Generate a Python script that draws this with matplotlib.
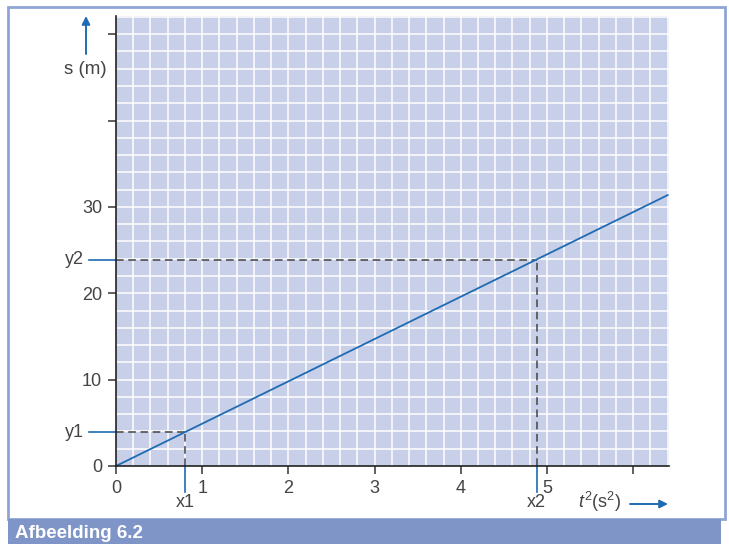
import matplotlib
matplotlib.use("Agg")
import matplotlib.pyplot as plt
import matplotlib.transforms as mtransforms
from matplotlib.patches import Rectangle
import numpy as np

# ---- data ----
x_line = [0.0, 6.4]          # t^2 (s^2)
y_line = [0.0, 31.36]        # s (m), s = 4.9 t^2
x_marks = [0.8, 4.88]
y_marks = [3.92, 23.9]
mark_xlabels = ["x1", "x2"]
mark_ylabels = ["y1", "y2"]
xticks = [0, 1, 2, 3, 4, 5, 6]
xticklabels = ["0", "1", "2", "3", "4", "5", ""]
yticks = [0, 10, 20, 30, 40, 50]
yticklabels = ["0", "10", "20", "30", "", ""]
caption = "Afbeelding 6.2"

plt.rcParams["font.family"] = ["Liberation Sans", "DejaVu Sans"]
plt.rcParams["mathtext.fontset"] = "custom"
plt.rcParams["mathtext.rm"] = "Liberation Sans"
plt.rcParams["mathtext.it"] = "Liberation Sans:italic"

BLUE = "#1f6bb3"
GRAY = "#444444"
BG = "#c8cfe8"
FS = 13

W, H = 729, 544
fig = plt.figure(figsize=(W / 100, H / 100), dpi=100)

def fx(px):
    return px / W

def fy(py):
    return 1 - py / H

# border & banner
fig.patches.append(Rectangle((fx(8), fy(519)), fx(725) - fx(8), fy(7) - fy(519),
                             transform=fig.transFigure, fill=False,
                             edgecolor="#8fa5d6", linewidth=2))
fig.patches.append(Rectangle((fx(8), 0), fx(721) - fx(8), fy(519),
                             transform=fig.transFigure, facecolor="#7f95c8",
                             edgecolor="none"))
fig.text(fx(15), fy(533), caption, color="white", fontsize=13.5, fontweight="bold",
         va="center", ha="left")

ax = fig.add_axes([fx(116), fy(466), fx(668.5) - fx(116), fy(16) - fy(466)])
ax.set_facecolor(BG)
ax.set_xlim(0, 6.41)
ax.set_ylim(0, 52.1)

# grid
for gx in np.arange(0.2, 6.41, 0.2):
    ax.axvline(gx, color="white", lw=1.1, zorder=1)
for gy in np.arange(2, 52.1, 2):
    ax.axhline(gy, color="white", lw=1.1, zorder=1)

for s in ["top", "right"]:
    ax.spines[s].set_visible(False)
for s in ["left", "bottom"]:
    ax.spines[s].set_color("#222222")
    ax.spines[s].set_linewidth(1.2)
    ax.spines[s].set_zorder(5)

ax.set_xticks(xticks)
ax.set_xticklabels(xticklabels)
ax.set_yticks(yticks)
ax.set_yticklabels(yticklabels)
ax.tick_params(axis="both", direction="out", length=6, width=1.2, color="#444444",
               labelsize=FS, labelcolor=GRAY)
ax.tick_params(axis="x", pad=4)
ax.tick_params(axis="y", pad=4)

# main line
ax.plot(x_line, y_line, color=BLUE, lw=1.3, zorder=4, clip_on=False)

# dashed guides and blue marks
bx = mtransforms.blended_transform_factory(ax.transData, ax.transAxes)
by = mtransforms.blended_transform_factory(ax.transAxes, ax.transData)
for xm, ym, xl, yl in zip(x_marks, y_marks, mark_xlabels, mark_ylabels):
    ax.plot([0, xm], [ym, ym], color="#444444", lw=1.1, ls=(0, (5, 3)), zorder=3)
    ax.plot([xm, xm], [0, ym], color="#444444", lw=1.1, ls=(0, (5, 3)), zorder=3)
    ax.plot([-0.049, 0], [ym, ym], color=BLUE, lw=1.2, transform=by, clip_on=False)
    ax.plot([xm, xm], [0, -0.058], color=BLUE, lw=1.2, transform=bx, clip_on=False)
    ax.text(-0.058, ym, yl, transform=by, ha="right", va="center", fontsize=FS, color=GRAY)
    ax.text(xm, -0.082, xl, transform=bx, ha="center", va="center", fontsize=FS, color=GRAY)

# axis labels with arrows
fig.text(fx(85.5), fy(70), "s (m)", ha="center", va="center", fontsize=13.5, color=GRAY)
ax.annotate("", xy=(fx(86), fy(16)), xytext=(fx(86), fy(54)), xycoords="figure fraction",
            textcoords="figure fraction",
            arrowprops=dict(arrowstyle="-|>", color=BLUE, lw=1.4, mutation_scale=12,
                            shrinkA=0, shrinkB=0))
fig.text(fx(600), fy(502), r"$\mathit{t}^2$(s$^2$)", ha="center", va="center",
         fontsize=FS, color=GRAY)
ax.annotate("", xy=(fx(668), fy(504)), xytext=(fx(630), fy(504)), xycoords="figure fraction",
            textcoords="figure fraction",
            arrowprops=dict(arrowstyle="-|>", color=BLUE, lw=1.4, mutation_scale=12,
                            shrinkA=0, shrinkB=0))

fig.savefig("out.png", dpi=100)
